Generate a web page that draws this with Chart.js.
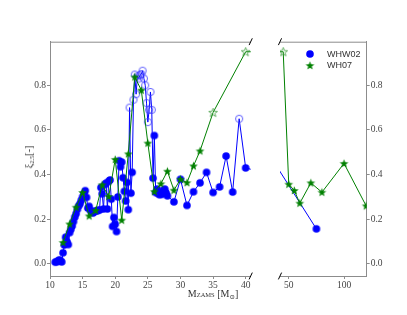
<!DOCTYPE html>
<html>
<head>
<meta charset="utf-8">
<script src="https://cdn.jsdelivr.net/npm/chart.js@4.4.1/dist/chart.umd.min.js"></script>
<style>
  body { margin: 0; background: #fff; }
  #wrap { position: relative; width: 407px; height: 315px; }
  #wrap canvas { position: absolute; left: 0; top: 0; }
  .lbl { position: absolute; font-family: 'Liberation Serif', 'DejaVu Serif', serif; color: #333; font-size: 10px; white-space: nowrap; }
  #xl { left: 213px; top: 294px; transform: translate(-50%, -50%); }
  #yl { left: 29px; top: 157px; transform: translate(-50%, -50%) rotate(-90deg); }
  .sc { font-size: 6.5px; }
  sub { font-size: 6.5px; vertical-align: -2px; }
</style>
</head>
<body>
<div id="wrap">
  <canvas id="chLeft" width="407" height="315"></canvas>
  <canvas id="chRight" width="407" height="315"></canvas>
  <div class="lbl" id="xl">M<span class="sc">ZAMS</span> [M<sub>⊙</sub>]</div>
  <div class="lbl" id="yl">ξ<sub>2.5</sub>[-]</div>
</div>
<script>
// ---------- data ----------
var whw02Mass = [10.8, 11.0, 11.2, 11.4, 11.6, 11.8, 12.0, 12.2, 12.4, 12.6, 12.8,
  13.0, 13.2, 13.4, 13.6, 13.8, 14.0, 14.2, 14.4, 14.6, 14.8,
  15.0, 15.2, 15.4, 15.6, 15.8, 16.0, 16.2, 16.4, 16.6, 16.8,
  17.0, 17.2, 17.4, 17.6, 17.8, 18.0, 18.2, 18.4, 18.6, 18.8,
  19.0, 19.2, 19.4, 19.6, 19.8, 20.0, 20.2, 20.4, 20.6, 20.8,
  21.0, 21.2, 21.4, 21.6, 21.8, 22.0, 22.2, 22.4, 22.6, 22.8,
  23.0, 23.2, 23.4, 23.6, 23.8, 24.0, 24.2, 24.4, 24.6, 24.8,
  25.0, 25.2, 25.4, 25.6, 25.8, 26.0, 26.2, 26.4, 26.6, 26.8,
  27.0, 27.2, 27.4, 27.6, 27.8, 28.0,
  29, 30, 31, 32, 33, 34, 35, 36, 37, 38, 39, 40, 75];
var whw02Xi = [0.008, 0.010, 0.012, 0.018, 0.015, 0.009, 0.050, 0.085, 0.120, 0.100, 0.087,
  0.140, 0.155, 0.170, 0.190, 0.210, 0.225, 0.245, 0.260, 0.270, 0.285,
  0.300, 0.315, 0.328, 0.298, 0.250, 0.258, 0.240, 0.232, 0.228, 0.235,
  0.237, 0.238, 0.240, 0.242, 0.342, 0.314, 0.246, 0.355, 0.362, 0.246,
  0.370, 0.376, 0.290, 0.168, 0.208, 0.178, 0.145, 0.300, 0.462, 0.435,
  0.456, 0.386, 0.325, 0.282, 0.365, 0.243, 0.700, 0.317, 0.410, 0.735,
  0.848, 0.760, 0.840, 0.830, 0.845, 0.850, 0.865, 0.830, 0.800, 0.720,
  0.635, 0.690, 0.770, 0.690, 0.384, 0.575, 0.320, 0.335, 0.315, 0.310,
  0.320, 0.312, 0.330, 0.335, 0.318, 0.305,
  0.278, 0.379, 0.262, 0.323, 0.363, 0.410, 0.320, 0.345, 0.483, 0.322, 0.650, 0.430, 0.157];
var whw02Open = [22.2, 22.8, 23.0, 23.2, 23.4, 23.6, 23.8, 24.0, 24.2, 24.4, 24.6, 24.8,
  25.0, 25.2, 25.4, 25.6, 39];

var wh07Mass = [12, 13, 14, 15, 16, 17, 18, 19, 20, 21, 22, 23, 24, 25, 26, 27, 28, 29, 30,
  31, 32, 33, 35, 40, 45, 50, 55, 60, 70, 80, 100, 120];
var wh07Xi = [0.096, 0.179, 0.254, 0.320, 0.215, 0.239, 0.354, 0.302, 0.468, 0.196, 0.493,
  0.837, 0.778, 0.541, 0.324, 0.359, 0.415, 0.330, 0.379, 0.364, 0.439, 0.506, 0.678,
  0.950, 0.950, 0.357, 0.329, 0.272, 0.363, 0.321, 0.450, 0.260];
var wh07Open = [35, 40, 45];

var xTicksLeft = [10, 15, 20, 25, 30, 35, 40];
var xTicksRight = [50, 100];
var yTicks = [0.0, 0.2, 0.4, 0.6, 0.8];

// ---------- markers ----------
function makeCircle(color, filled) {
  var c = document.createElement('canvas');
  c.width = 10; c.height = 10;
  var g = c.getContext('2d');
  g.beginPath();
  if (filled) {
    g.arc(5, 5, 3.8, 0, Math.PI * 2);
    g.fillStyle = color; g.fill();
  } else {
    g.arc(5, 5, 3.6, 0, Math.PI * 2);
    g.strokeStyle = color; g.lineWidth = 0.8; g.stroke();
  }
  return c;
}
function makeStar(color, filled) {
  var c = document.createElement('canvas');
  c.width = 11; c.height = 11;
  var g = c.getContext('2d');
  g.beginPath();
  for (var i = 0; i < 10; i++) {
    var r = i % 2 ? 1.9 : 4.6;
    var a = -Math.PI / 2 + i * Math.PI / 5;
    var px = 5.5 + r * Math.cos(a), py = 5.8 + r * Math.sin(a);
    if (i === 0) g.moveTo(px, py); else g.lineTo(px, py);
  }
  g.closePath();
  if (filled) { g.fillStyle = color; g.fill(); }
  else { g.strokeStyle = color; g.lineWidth = 0.8; g.stroke(); }
  return c;
}
var circFill = makeCircle('#0000ff', true);
var circOpen = makeCircle('#3a3aff', false);
var starFill = makeStar('#008000', true);
var starOpen = makeStar('#3c9a3c', false);

function toPoints(xs, ys) {
  return xs.map(function (x, i) { return { x: x, y: ys[i] }; });
}

// hide markers whose centre falls outside this panel
function radiusInPanel(ctx) {
  var s = ctx.chart.scales.x;
  var v = ctx.raw ? ctx.raw.x : null;
  if (v === null || v < s.min || v > s.max) return 0;
  return 4;
}

var spineColor = '#8c8c8c';
var tickColor = '#444';
var tickFont = { family: "'Liberation Serif', 'DejaVu Serif', serif", size: 9.5 };

function datasets() {
  return [
    {
      label: 'WH07',
      data: toPoints(wh07Mass, wh07Xi),
      borderColor: '#008000',
      borderWidth: 1,
      clip: 0,
      pointRadius: radiusInPanel,
      pointStyle: function (ctx) { return wh07Open.indexOf(wh07Mass[ctx.dataIndex]) >= 0 ? starOpen : starFill; },
      tension: 0
    },
    {
      label: 'WHW02',
      data: toPoints(whw02Mass, whw02Xi),
      borderColor: '#0000ff',
      borderWidth: 1,
      clip: 0,
      pointRadius: radiusInPanel,
      pointStyle: function (ctx) { return whw02Open.indexOf(whw02Mass[ctx.dataIndex]) >= 0 ? circOpen : circFill; },
      tension: 0
    }
  ];
}

// top spine and "/" break marks
function framePlugin(breakSide) {
  return {
    id: 'frame',
    afterDraw: function (chart) {
      var a = chart.chartArea, g = chart.ctx;
      g.save();
      g.strokeStyle = spineColor; g.lineWidth = 1;
      g.beginPath(); g.moveTo(a.left, a.top + 0.5); g.lineTo(a.right, a.top + 0.5); g.stroke();
      var bx = breakSide === 'right' ? a.right : a.left;
      g.strokeStyle = '#000'; g.lineWidth = 1;
      [a.top, a.bottom].forEach(function (by) {
        g.beginPath(); g.moveTo(bx - 1.6, by + 3.4); g.lineTo(bx + 1.6, by - 3.4); g.stroke();
      });
      g.restore();
    }
  };
}

var legendPlugin = {
  id: 'legendBox',
  afterDraw: function (chart) {
    var g = chart.ctx;
    g.save();
    g.drawImage(circFill, 310 - 5, 54 - 5);
    g.drawImage(starFill, 310 - 5.5, 65.5 - 5.5);
    g.fillStyle = '#333';
    g.font = "9px 'Liberation Sans', 'DejaVu Sans', sans-serif";
    g.textBaseline = 'middle';
    g.fillText('WHW02', 327, 54.5);
    g.fillText('WH07', 327, 65.5);
    g.restore();
  }
};

function scalesFor(xMin, xMax, xTicks, yPos, yWidth) {
  return {
    x: {
      type: 'linear', min: xMin, max: xMax,
      afterBuildTicks: function (s) { s.ticks = xTicks.map(function (v) { return { value: v }; }); },
      afterFit: function (s) { s.height = 39; },
      ticks: { color: tickColor, font: tickFont, padding: 1, maxRotation: 0 },
      grid: { display: true, drawOnChartArea: false, drawTicks: true, tickLength: 3, color: spineColor },
      border: { color: spineColor, width: 1 }
    },
    y: {
      type: 'linear', position: yPos, min: -0.054, max: 0.995,
      afterBuildTicks: function (s) { s.ticks = yTicks.map(function (v) { return { value: v }; }); },
      afterFit: function (s) { s.width = yWidth; },
      ticks: { color: tickColor, font: tickFont, padding: 1,
        callback: function (v) { return v.toFixed(1); } },
      grid: { display: true, drawOnChartArea: false, drawTicks: true, tickLength: 3, color: spineColor },
      border: { color: spineColor, width: 1 }
    }
  };
}

var common = {
  responsive: false,
  animation: false,
  plugins: { legend: { display: false }, tooltip: { enabled: false } }
};

new Chart(document.getElementById('chLeft'), {
  type: 'line',
  data: { datasets: datasets() },
  options: Object.assign({}, common, {
    layout: { padding: { left: 0, top: 41.7, right: 156.3, bottom: 0 } },
    scales: scalesFor(10, 40.77, xTicksLeft, 'left', 50)
  }),
  plugins: [framePlugin('right')]
});

new Chart(document.getElementById('chRight'), {
  type: 'line',
  data: { datasets: datasets() },
  options: Object.assign({}, common, {
    layout: { padding: { left: 280, top: 41.7, right: 0, bottom: 0 } },
    scales: scalesFor(42.1, 120.5, xTicksRight, 'right', 40.3)
  }),
  plugins: [framePlugin('left'), legendPlugin]
});
</script>
</body>
</html>
